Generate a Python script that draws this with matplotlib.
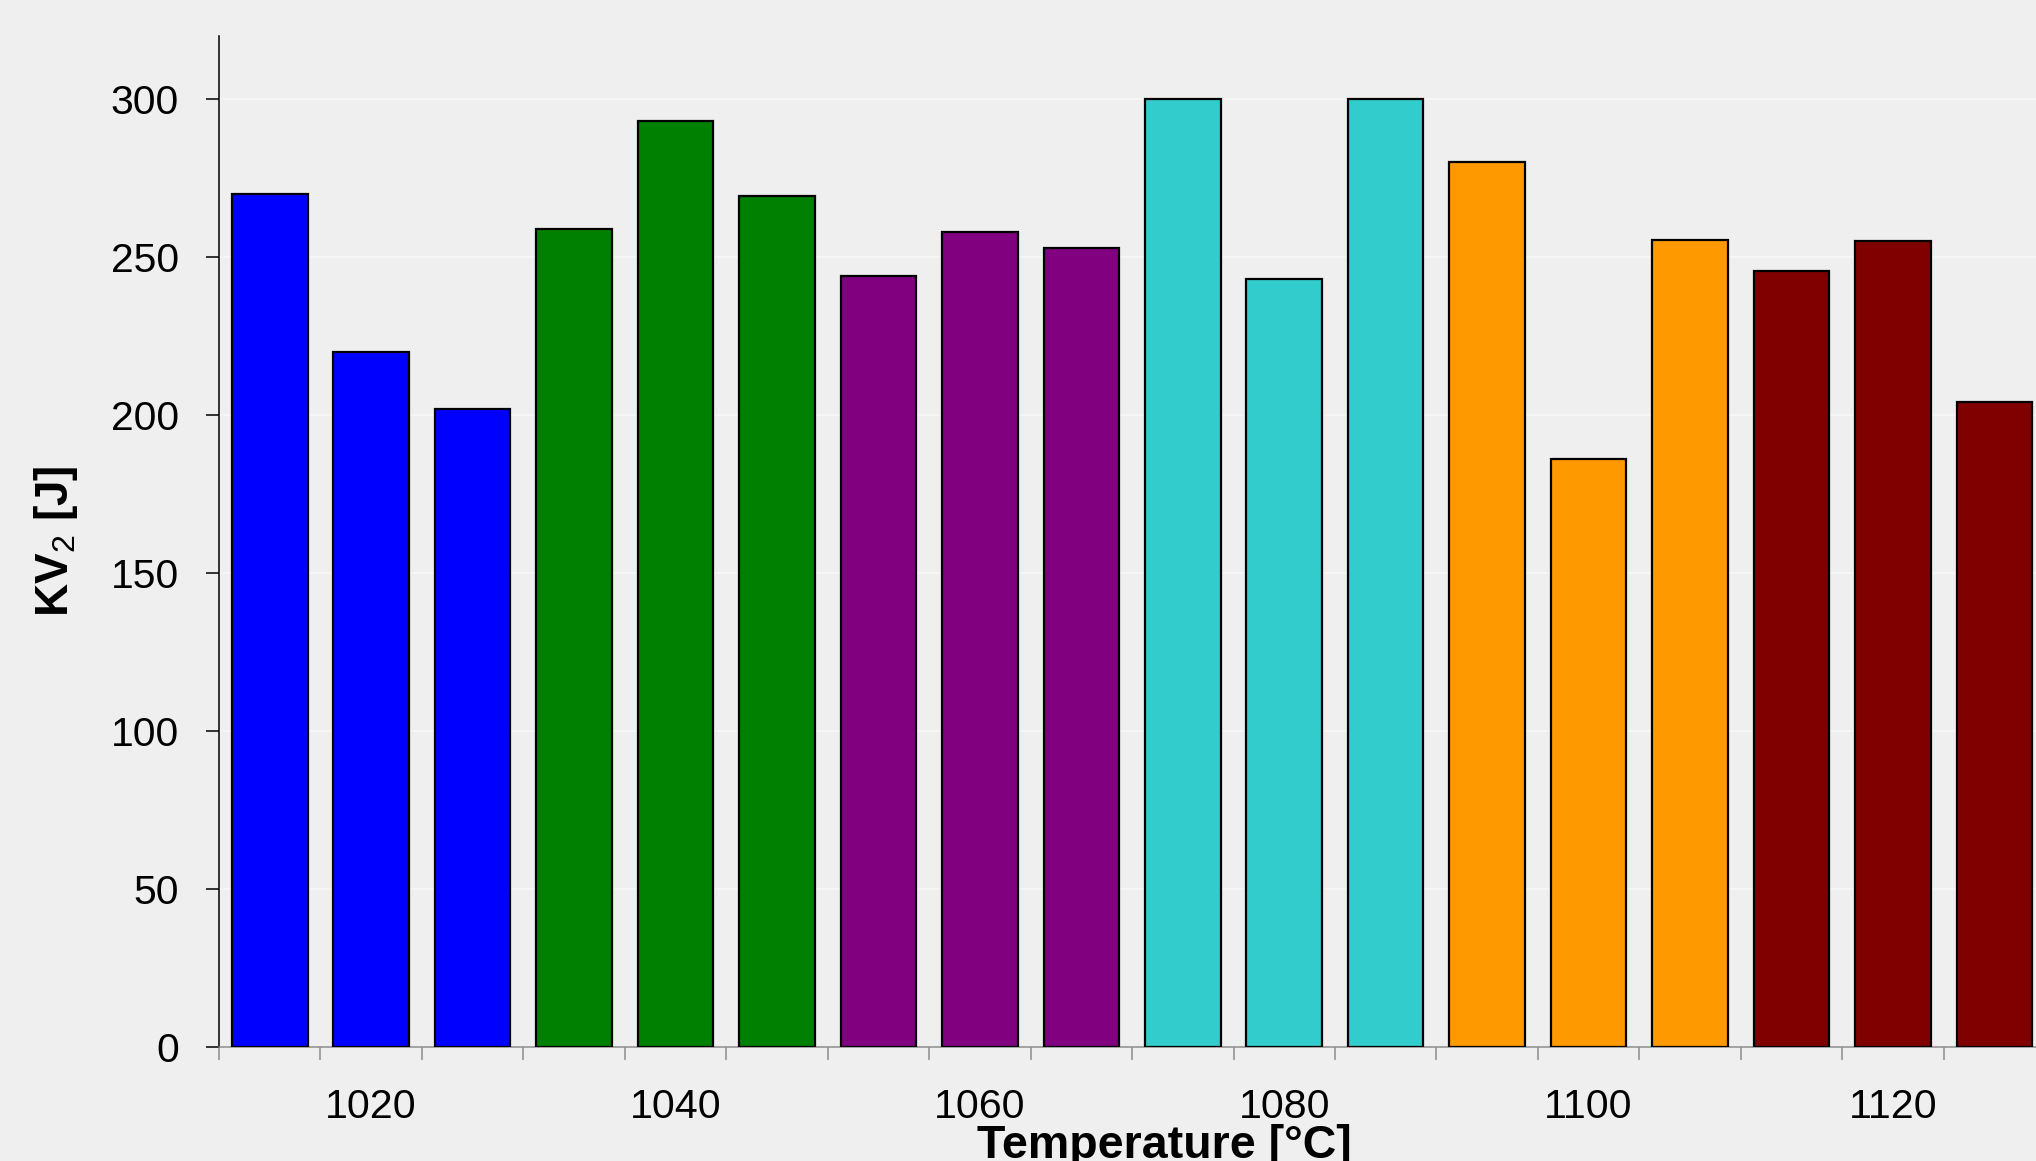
import matplotlib
matplotlib.use("Agg")
import matplotlib.pyplot as plt
import numpy as np

# Austenitising temperatures, three Charpy specimens tested at each
temperatures = [1020, 1040, 1060, 1080, 1100, 1120]
specimens_per_temperature = 3

# Impact energy KV2 [J] of every specimen, in temperature order
kv2_j = [270, 220, 202,
         259, 293, 269.5,
         244, 258, 253,
         300, 243, 300,
         280, 186, 255.5,
         245.5, 255, 204]

group_colors = ["#0000ff", "#008000", "#800080", "#33cccc", "#ff9900", "#800000"]
y_ticks = [0, 50, 100, 150, 200, 250, 300]

plt.rcParams["font.family"] = ["Liberation Sans", "DejaVu Sans"]
plt.rcParams["mathtext.fontset"] = "custom"
plt.rcParams["mathtext.rm"] = "Liberation Sans"
plt.rcParams["mathtext.bf"] = "Liberation Sans:bold"

W, H = 2036, 1161
fig = plt.figure(figsize=(W / 100, H / 100), dpi=100, facecolor="#efefef")

x0_px, y0_px, ytop_px = 219, 1046.7, 36
ax = fig.add_axes([x0_px / W, (H - y0_px) / H, 1 - x0_px / W, (y0_px - ytop_px) / H])
ax.set_facecolor("none")

n = len(kv2_j)
pos = np.arange(n)
colors = [group_colors[i // specimens_per_temperature] for i in range(n)]
ax.bar(pos, kv2_j, width=0.745, color=colors, edgecolor="black",
       linewidth=1.6, zorder=3)

# y axis
ax.set_yticks(y_ticks)
ax.tick_params(axis="y", length=9.4, width=1.1, color="black",
               pad=19.4, labelsize=29.4)
ax.yaxis.grid(True, color="white", linewidth=1.2, alpha=0.5)
ax.set_axisbelow(True)

# x axis: labels at the middle specimen of each temperature, ticks between bars
centers = [g * specimens_per_temperature + 1 for g in range(len(temperatures))]
ax.set_xticks(centers, [str(t) for t in temperatures])
ax.tick_params(axis="x", which="major", length=0, pad=29.5, labelsize=29.6)
ax.set_xticks(np.arange(-0.5, n - 1, 1.0), minor=True)
ax.tick_params(axis="x", which="minor", length=9.4, width=1.1, color="#8c8c8c")

pitch_px = 101.45
ax.set_xlim(-0.5, (W - x0_px) / pitch_px - 0.5)
ax.set_ylim(0, 320)

for side in ("top", "right"):
    ax.spines[side].set_visible(False)
ax.spines["left"].set_color("black")
ax.spines["left"].set_linewidth(1.1)
ax.spines["bottom"].set_color("#8c8c8c")
ax.spines["bottom"].set_linewidth(1.1)

fig.text(68 / W, (H - 541) / H, r"KV$_2$ [J]", rotation=90, rotation_mode="anchor",
         ha="center", va="baseline", fontsize=33, fontweight="bold")
fig.text(1164 / W, (H - 1158) / H, "Temperature [°C]", ha="center",
         va="baseline", fontsize=33.5, fontweight="bold")

fig.savefig("out.png", dpi=100, facecolor=fig.get_facecolor())
